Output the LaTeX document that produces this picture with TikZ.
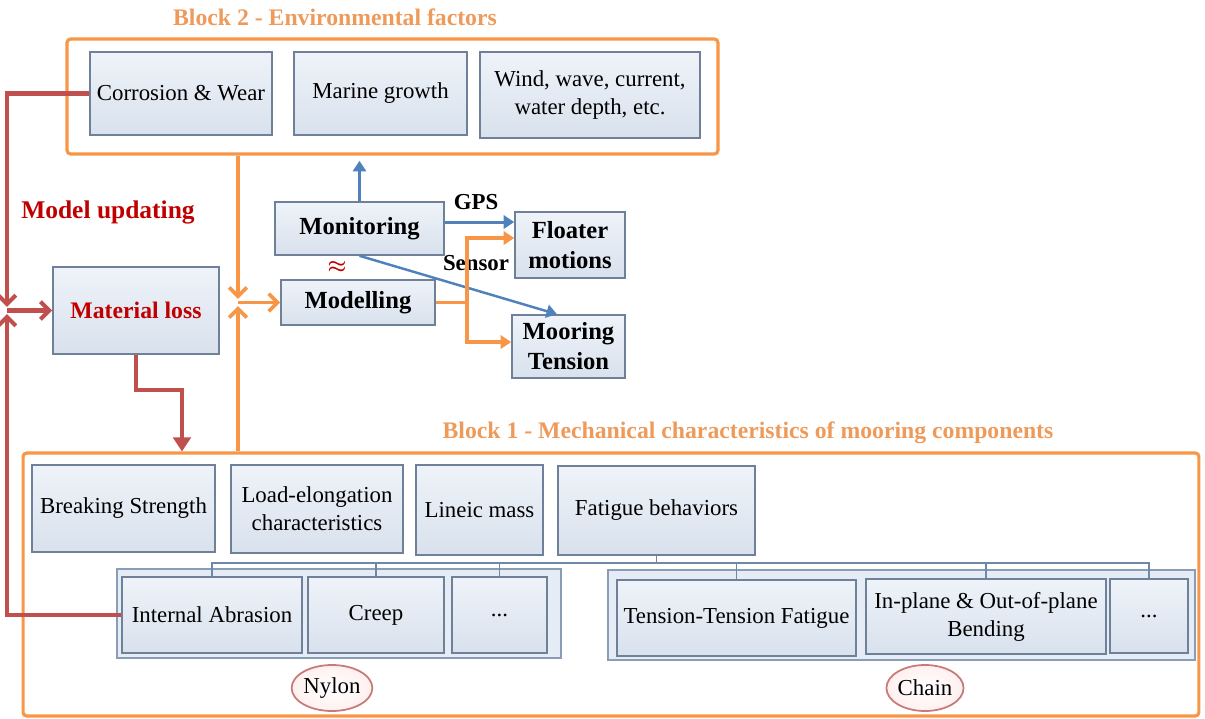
\documentclass[tikz,border=0pt]{standalone}
\usepackage{amsmath}
\usepackage{fontspec}
\setmainfont{Liberation Serif}
\usepackage{tikz}
\usepackage{xcolor}
\usetikzlibrary{arrows.meta,shapes.geometric}
\definecolor{blkorange}{HTML}{F79646}
\definecolor{ttlorange}{HTML}{EE9A5A}
\definecolor{updred}{HTML}{C0504D}
\definecolor{txtred}{HTML}{C00000}
\definecolor{monblue}{HTML}{4F81BD}
\definecolor{boxtop}{HTML}{EFF3F9}
\definecolor{boxbot}{HTML}{D8E1ED}
\definecolor{boxline}{HTML}{6F8099}
\definecolor{grpfill}{HTML}{E6ECF5}
\definecolor{grpline}{HTML}{8A9DB6}
\definecolor{treeline}{HTML}{6F88A8}
\definecolor{ellline}{HTML}{C77A78}
\tikzset{%
  tipA/.tip={Triangle[length=6pt,width=7.5pt]},
  tipB/.tip={Straight Barb[length=5pt,width=10pt]},
  tipC/.tip={Triangle[length=8pt,width=10pt]},
  fbox/.style={draw=boxline, line width=0.9pt, top color=boxtop, bottom color=boxbot,
    inner sep=1pt, align=center, font=\fontsize{13}{16}\selectfont},
  bbox/.style={fbox, font=\fontsize{14}{17}\selectfont\bfseries},
  grpbox/.style={draw=grpline, line width=1pt, fill=grpfill},
  blkframe/.style={draw=blkorange, line width=1.8pt, rounded corners=2pt},
  blktitle/.style={text=ttlorange, font=\fontsize{13.5}{16}\selectfont\bfseries},
  lbl/.style={font=\fontsize{13}{16}\selectfont\bfseries},
  matellipse/.style={ellipse, draw=ellline, line width=1pt, inner color=white, outer color=red!6,
    minimum width=1.36cm, minimum height=0.92cm, inner sep=0pt, font=\fontsize{13}{16}\selectfont}
}

\begin{document}
\begin{tikzpicture}[x=0.02cm,y=-0.02cm]
\useasboundingbox (0,0) rectangle (1205,718);

\node[blktitle] (ttlB) at (335,17) {Block 2 - Environmental factors};
\node[blkframe, minimum width=13.02cm, minimum height=2.30cm] (blkB) at (392.5,96.5) {};
\node[fbox, minimum width=3.64cm, minimum height=1.66cm] (corr) at (181,93.5) {Corrosion \& Wear};
\node[fbox, minimum width=3.46cm, minimum height=1.66cm] (marine) at (380.5,93.5) {Marine growth};
\node[fbox, minimum width=4.40cm, minimum height=1.72cm] (wind) at (590,95) {Wind, wave, current,\\water depth, etc.};

\node[text=txtred, font=\fontsize{14.5}{17}\selectfont\bfseries] (upd) at (108,212) {Model updating};
\node[fbox, minimum width=3.32cm, minimum height=1.74cm, text=txtred, font=\fontsize{13.5}{16}\selectfont\bfseries] (matloss) at (136,310.5) {Material loss};

\node[bbox, minimum width=3.38cm, minimum height=1.06cm] (monit) at (359.5,228.5) {Monitoring};
\node[bbox, minimum width=3.08cm, minimum height=0.90cm] (model) at (358,302.5) {Modelling};
\node[text=txtred, font=\fontsize{12}{12}\selectfont] (apx) at (337,267) {$\boldsymbol{\approx}$};
\node[bbox, minimum width=2.20cm, minimum height=1.32cm] (floater) at (570,245) {Floater\\motions};
\node[bbox, minimum width=2.26cm, minimum height=1.26cm] (mooring) at (568.5,346.5) {Mooring\\Tension};
\node[lbl] (gps) at (476,202) {GPS};
\node[lbl] (sens) at (476,263) {Sensor};

\node[blktitle] (ttlA) at (748,433) {Block 1 - Mechanical characteristics of mooring components};
\node[blkframe, minimum width=23.52cm, minimum height=5.26cm] (blkA) at (611,584.5) {};
\node[fbox, minimum width=3.66cm, minimum height=1.74cm] (brk) at (123.5,508.5) {Breaking Strength};
\node[fbox, minimum width=3.44cm, minimum height=1.76cm] (loadel) at (317,509) {Load-elongation\\characteristics};
\node[fbox, minimum width=2.54cm, minimum height=1.80cm] (lineic) at (479.5,510) {Lineic mass};
\node[fbox, minimum width=3.94cm, minimum height=1.78cm] (fatig) at (656.5,510.5) {Fatigue behaviors};

\node[grpbox, minimum width=8.88cm, minimum height=1.78cm] (nylgrp) at (339,613.5) {};
\node[fbox, minimum width=3.60cm, minimum height=1.52cm] (abras) at (212,615) {Internal Abrasion};
\node[fbox, minimum width=2.72cm, minimum height=1.52cm] (creep) at (376,615) {Creep};
\node[fbox, minimum width=1.90cm, minimum height=1.52cm] (nyldots) at (499.5,615) {...};
\node[grpbox, minimum width=11.74cm, minimum height=1.80cm] (chngrp) at (901.5,615) {};
\node[fbox, minimum width=4.78cm, minimum height=1.52cm] (tens) at (736.5,618) {Tension-Tension Fatigue};
\node[fbox, minimum width=4.80cm, minimum height=1.50cm] (bend) at (986,616.5) {In-plane \& Out-of-plane\\Bending};
\node[fbox, minimum width=1.56cm, minimum height=1.48cm] (chndots) at (1149,616) {...};
\node[matellipse] (nylon) at (332,688) {Nylon};
\node[matellipse] (chain) at (925,688) {Chain};

\coordinate (bus) at (656.5,563);
\draw[treeline, line width=0.7pt] (fatig.south) -- (bus);
\foreach \c in {abras,creep,nyldots,tens,bend,chndots}
  \draw[treeline, line width=0.7pt] (\c.north) |- (bus);

\draw[monblue, line width=1.7pt, -tipA, shorten >=3pt] (monit.north) -- (monit.north |- blkB.south);
\draw[monblue, line width=1.7pt, -tipA] ([yshift=1.3mm]monit.east) -- ([yshift=1.3mm]monit.east -| floater.west);
\draw[monblue, line width=1.4pt, -tipA] (monit.south) -- ([xshift=-2.3mm]mooring.north);

\coordinate (split) at (467,302.5);
\draw[blkorange, line width=2pt] (model.east) -- (split);
\draw[blkorange, line width=2pt, -tipA] (split) |- ([yshift=1.4mm]floater.west);
\draw[blkorange, line width=2pt, -tipA] (split) |- ([yshift=0.9mm]mooring.west);

\coordinate (merge) at (238,302.5);
\draw[blkorange, line width=2.2pt, -tipB, shorten >=2pt] (merge |- blkB.south) -- (merge);
\draw[blkorange, line width=2.2pt, -tipB, shorten >=2pt] (merge |- blkA.north) -- (merge);
\draw[blkorange, line width=2.2pt, -tipB] (merge) -- (model.west);

\coordinate (loopL) at (7,310.5);
\draw[updred, line width=2.4pt, -tipB, shorten >=2pt] (corr.west) -| (loopL);
\draw[updred, line width=2.4pt, -tipB, shorten >=2pt] (abras.west) -| (loopL);
\draw[updred, line width=2.4pt, -tipB] (loopL) -- (matloss.west);
\coordinate (stepR) at (182,390);
\draw[updred, line width=2.4pt, -tipC] (matloss.south) |- (stepR) -- (stepR |- blkA.north);
\end{tikzpicture}
\end{document}
